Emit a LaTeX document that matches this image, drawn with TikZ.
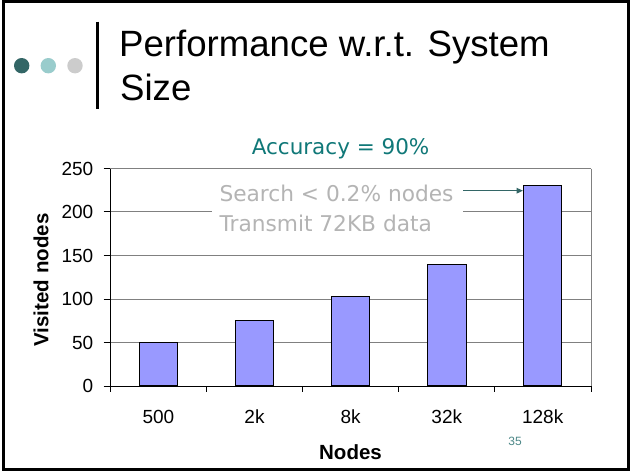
\documentclass[tikz,border=0pt]{standalone}
\usepackage{fontspec}
\setmainfont{Liberation Sans}
\newfontfamily\tahoma{DejaVu Sans}
\usetikzlibrary{arrows.meta}
\definecolor{dotA}{HTML}{336666}
\definecolor{dotB}{HTML}{99CCCC}
\definecolor{dotC}{HTML}{CCCCCC}
\definecolor{gridc}{HTML}{808080}
\definecolor{barfill}{HTML}{9999FF}
\definecolor{acc}{HTML}{107878}
\definecolor{note}{HTML}{B4B4B4}
\definecolor{arrc}{HTML}{336666}
\definecolor{pagec}{HTML}{4D8888}
\tikzset{
  dot/.style={circle, inner sep=0pt, minimum size=15.4pt},
  gridline/.style={draw=gridc, line width=0.9pt},
  axisline/.style={draw=black, line width=0.9pt},
  bar/.style={draw=black, fill=barfill, line width=0.9pt, inner sep=0pt, minimum width=38.4pt, anchor=south},
  ytick/.style={anchor=east, inner sep=0pt, font=\fontsize{19}{21}\selectfont},
  xtick/.style={anchor=center, inner sep=0pt, font=\fontsize{19}{21}\selectfont},
  axlabel/.style={inner sep=0pt, font=\fontsize{20.5}{22}\selectfont\bfseries},
  titletext/.style={anchor=base west, inner sep=0pt, font=\fontsize{36.6}{43}\selectfont},
  notetext/.style={anchor=base west, inner sep=0pt, text=note, font=\tahoma\fontsize{21.7}{26}\selectfont},
  arr/.style={draw=arrc, line width=1.4pt, -{Triangle[length=6.5pt,width=5.5pt]}}
}
\begin{document}
\begin{tikzpicture}[x=1pt,y=-1pt]
\useasboundingbox (0,0) rectangle (631,471);
\fill[white] (0,0) rectangle (631,471);
% slide frame
\draw[line width=2.7pt] (3.5,1.5) rectangle (628.3,469.8);
% header dots and bar
\node[dot, fill=dotA] (d1) at (21.7,65.7) {};
\node[dot, fill=dotB] (d2) at (48.3,65.7) {};
\node[dot, fill=dotC] (d3) at (75,65.7) {};
\coordinate (vt) at (97.7,21.7);
\coordinate (vb) at (97.7,109);
\draw[line width=2.5pt] (vt) -- (vb);
% title
\node[titletext] (t1) at (119,56.7) {Performance w.r.t. System};
\node[titletext] (t2) at (120,100) {Size};
% chart title
\node[anchor=base, inner sep=0pt, text=acc, font=\tahoma\fontsize{21.5}{24}\selectfont] (accn) at (340.6,154.3) {Accuracy = 90\%};
% gridlines
\foreach \yy in {168.5,211.7,255.5,299,342.5} {
  \draw[gridline] (110,\yy) -- (591,\yy);
}
\draw[gridline] (591,168.5) -- (591,386);
% bars
\node[bar, minimum height=43.5pt] (b1) at (158.4,386) {};
\node[bar, minimum height=65.2pt] (b2) at (254.5,386) {};
\node[bar, minimum height=88.7pt] (b3) at (350.7,386) {};
\node[bar, minimum height=120.9pt] (b4) at (446.8,386) {};
\node[bar, minimum height=200.1pt] (b5) at (542.7,386) {};
% axes
\draw[axisline] (110,168.5) -- (110,386);
\draw[axisline] (110,386) -- (591,386);
\foreach \yy in {168.5,211.7,255.5,299,342.5,386} {
  \draw[axisline] (103.5,\yy) -- (110,\yy);
}
\foreach \xx in {110,206.2,302.4,398.6,494.8,591} {
  \draw[axisline] (\xx,386) -- (\xx,392);
}
% y tick labels
\node[ytick] (y0) at (93.5,386) {0};
\node[ytick] (y50) at (93.5,342.5) {50};
\node[ytick] (y100) at (93.5,299) {100};
\node[ytick] (y150) at (93.5,255.5) {150};
\node[ytick] (y200) at (93.5,211.7) {200};
\node[ytick] (y250) at (93.5,168.5) {250};
% x tick labels
\node[xtick] (x1) at (158.4,416.7) {500};
\node[xtick] (x2) at (254.5,416.7) {2k};
\node[xtick] (x3) at (350.7,416.7) {8k};
\node[xtick] (x4) at (446.8,416.7) {32k};
\node[xtick] (x5) at (542.7,416.7) {128k};
% axis labels
\node[axlabel, rotate=90] (ylab) at (41,280) {Visited nodes};
\node[axlabel] (xlab) at (350.5,452.5) {Nodes};
% annotation box
\fill[white] (212.3,176) rectangle (462.7,238);
\node[notetext] (s1) at (219.3,201.7) {Search < 0.2\% nodes};
\node[notetext] (s2) at (219.3,231.7) {Transmit 72KB data};
\coordinate (a0) at (463,190.7);
\draw[arr] (a0) -- (b5.west |- a0);
% page number
\node[inner sep=0pt, text=pagec, font=\fontsize{12}{14}\selectfont] (pg) at (515,441) {35};
\end{tikzpicture}
\end{document}
